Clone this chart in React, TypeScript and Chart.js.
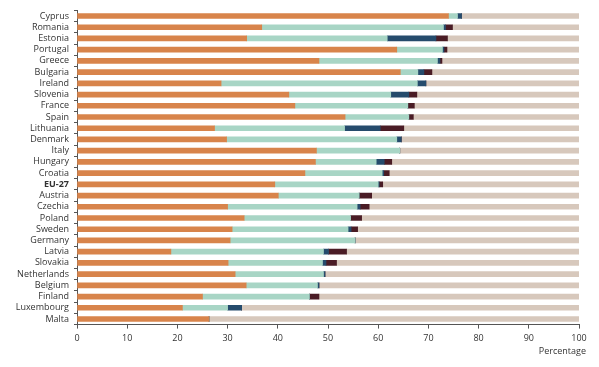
import React, { useEffect, useRef } from "react";
import { Chart, registerables } from "chart.js";

Chart.register(...registerables);

const countries = [
  "Cyprus", "Romania", "Estonia", "Portugal", "Greece", "Bulgaria", "Ireland", "Slovenia",
  "France", "Spain", "Lithuania", "Denmark", "Italy", "Hungary", "Croatia", "EU-27",
  "Austria", "Czechia", "Poland", "Sweden", "Germany", "Latvia", "Slovakia", "Netherlands",
  "Belgium", "Finland", "Luxembourg", "Malta",
];

const orangeVals = [74.0, 36.8, 33.8, 63.7, 48.2, 64.4, 28.7, 42.2, 43.4, 53.4, 27.4, 29.8, 47.7, 47.5, 45.4, 39.4, 40.1, 30.0, 33.3, 30.9, 30.5, 18.7, 30.1, 31.5, 33.7, 25.0, 21.0, 26.3];
const tealVals = [1.8, 36.2, 28.0, 9.1, 23.6, 3.5, 39.1, 20.3, 22.5, 12.7, 25.9, 33.9, 16.6, 12.1, 15.4, 20.6, 16.1, 25.8, 21.2, 23.1, 24.9, 30.4, 18.8, 17.6, 14.2, 21.3, 9.0, 0];
const navyVals = [0.8, 0.4, 9.7, 0.3, 0.5, 1.2, 1.7, 3.6, 0, 0, 7.1, 0.9, 0, 1.6, 0.3, 0.2, 0, 0.6, 0, 0.6, 0, 1.0, 0.7, 0.3, 0.3, 0, 2.8, 0];
const maroonVals = [0, 1.4, 2.3, 0.6, 0.4, 1.6, 0, 1.6, 1.3, 0.9, 4.7, 0, 0, 1.5, 1.1, 0.7, 2.5, 1.8, 2.2, 1.3, 0, 3.6, 2.1, 0, 0, 1.9, 0, 0];
const beigeVals = [23.4, 25.2, 26.2, 26.3, 27.3, 29.3, 30.5, 32.3, 32.8, 33.0, 34.9, 35.4, 35.7, 37.3, 37.8, 39.1, 41.3, 41.8, 43.3, 44.1, 44.6, 46.3, 48.3, 50.6, 51.8, 51.8, 67.2, 73.7];

const xTicks = [0, 10, 20, 30, 40, 50, 60, 70, 80, 90, 100];
const xTitle = "Percentage";

const xTitlePlugin = {
  id: "xTitle",
  afterDraw(chart: any) {
    const c = chart.ctx;
    const s = chart.scales.x;
    c.save();
    c.font = "9px 'Open Sans'";
    c.fillStyle = "#333";
    c.textAlign = "right";
    c.textBaseline = "middle";
    c.fillText(xTitle, s.right + 7, s.top + 27);
    c.restore();
  },
};

export default function App() {
  const ref = useRef<HTMLCanvasElement>(null);
  useEffect(() => {
    document.body.style.margin = "0";
    const ctx = ref.current!;
    const mk = (label: string, data: number[], color: string) => ({
      label, data, backgroundColor: color, borderWidth: 0, barThickness: 5,
    });
    const chart = new Chart(ctx, {
      type: "bar",
      data: {
        labels: countries,
        datasets: [
          mk("A", orangeVals, "#D8844B"),
          mk("B", tealVals, "#A8D5C5"),
          mk("C", navyVals, "#254B6C"),
          mk("D", maroonVals, "#4A1C25"),
          mk("E", beigeVals, "#D7C8BC"),
        ],
      },
      plugins: [xTitlePlugin],
      options: {
        indexAxis: "y",
        animation: false,
        responsive: false,
        maintainAspectRatio: false,
        layout: { padding: { top: 10.4, right: 20, left: 0, bottom: 0 } },
        plugins: { legend: { display: false }, tooltip: { enabled: false } },
        scales: {
          x: {
            stacked: true,
            min: 0,
            max: 100,
            afterBuildTicks: (s: any) => { s.ticks = xTicks.map((v) => ({ value: v })); },
            afterFit: (s: any) => { s.height = 42.4; },
            border: { display: true, color: "#555", width: 1 },
            grid: { display: true, drawOnChartArea: false, drawTicks: true, tickLength: 4, color: "#555" },
            ticks: { color: "#333", font: { family: "Open Sans", size: 9 }, padding: 4, maxRotation: 0 },
            title: { display: false },
          },
          y: {
            stacked: true,
            afterFit: (s: any) => { s.width = 77; },
            border: { display: true, color: "#555", width: 1 },
            grid: { display: true, drawOnChartArea: false, drawTicks: true, tickLength: 3, color: "#555", offset: true },
            ticks: {
              color: "#333",
              padding: 5,
              autoSkip: false,
              font: (c: any) => ({
                family: "Open Sans",
                size: 9,
                weight: countries[c.index] === "EU-27" ? "bold" : "normal",
              }),
            },
          },
        },
      },
    } as any);
    return () => chart.destroy();
  }, []);
  return (
    <div style={{ width: 599, height: 367, background: "#fff" }}>
      <canvas ref={ref} width={599} height={367} style={{ display: "block", width: 599, height: 367 }} />
    </div>
  );
}
